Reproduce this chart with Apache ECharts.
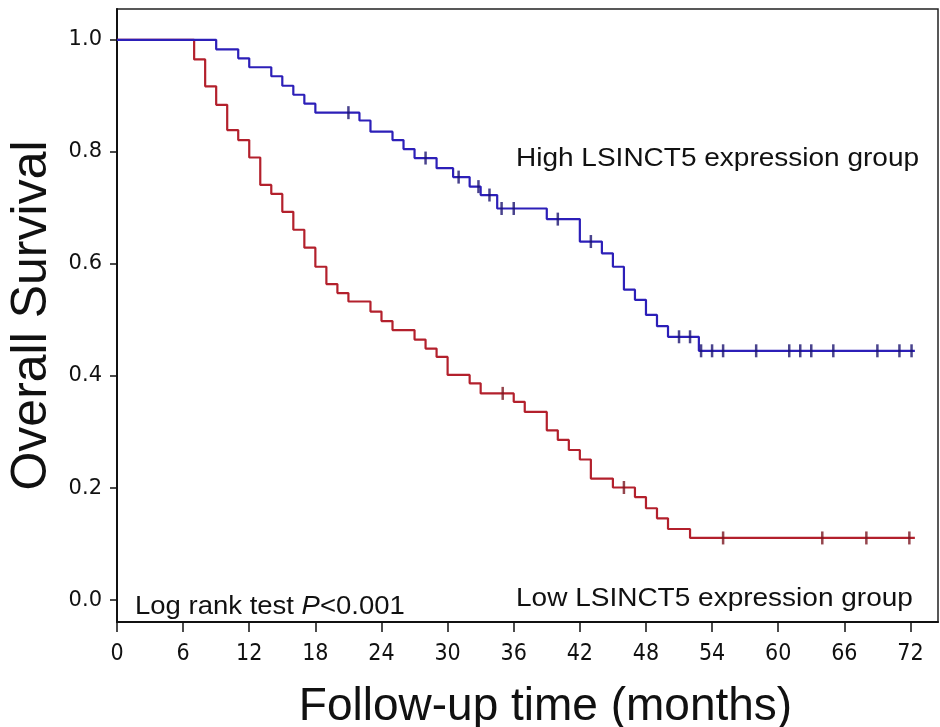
<!DOCTYPE html>
<html><head><meta charset="utf-8">
<script src="https://cdn.jsdelivr.net/npm/echarts@6/dist/echarts.min.js"></script>
<style>html,body{margin:0;padding:0;background:#fff}#c{width:940px;height:727px}</style>
</head><body><div id="c"></div>
<script>
// ---- data ----
const xTicks = [0, 6, 12, 18, 24, 30, 36, 42, 48, 54, 60, 66, 72];
const yTicks = [0, 0.2, 0.4, 0.6, 0.8, 1.0];

const highTimes = [0, 9, 11, 12, 14, 15, 16, 17, 18, 22, 23, 25, 26, 27, 29, 30.5, 32, 33, 34.5, 39, 42, 44, 45, 46, 47, 48, 49, 50, 52.8];
const highSurv  = [1.0, 0.983, 0.967, 0.951, 0.935, 0.918, 0.902, 0.886, 0.870, 0.856, 0.836, 0.821, 0.805, 0.789, 0.771, 0.755, 0.738, 0.723, 0.699, 0.680, 0.640, 0.619, 0.595, 0.554, 0.536, 0.509, 0.489, 0.470, 0.445];
const highEnd = 72.4;
const highCensor = [21, 28, 31, 32.8, 33.8, 34.9, 36, 40, 43, 51, 52, 53, 54, 55, 58, 61, 62, 63, 65, 69, 71, 72.1];

const lowTimes = [0, 7, 8, 9, 10, 11, 12, 13, 14, 15, 16, 17, 18, 19, 20, 21, 23, 24, 25, 27, 28, 29, 30, 32, 33, 36, 37, 39, 40, 41, 42, 43, 45, 47, 48, 49, 50, 52];
const lowSurv  = [1.0, 0.965, 0.917, 0.884, 0.839, 0.821, 0.790, 0.741, 0.725, 0.693, 0.661, 0.629, 0.595, 0.564, 0.548, 0.533, 0.515, 0.498, 0.482, 0.465, 0.449, 0.434, 0.402, 0.387, 0.369, 0.354, 0.336, 0.303, 0.286, 0.268, 0.251, 0.217, 0.201, 0.184, 0.164, 0.146, 0.127, 0.111];
const lowEnd = 72.4;
const lowCensor = [35, 46, 55, 64, 68, 71.9];

const highLabel = 'High LSINCT5 expression group';
const lowLabel = 'Low LSINCT5 expression group';

// ---- helpers ----
function survAt(times, surv, t) {
  let s = surv[0];
  for (let i = 0; i < times.length; i++) if (times[i] <= t) s = surv[i];
  return s;
}
function stepData(times, surv, end) {
  const d = times.map((t, i) => [t, surv[i]]);
  d.push([end, surv[surv.length - 1]]);
  return d;
}
function censorData(times, surv, cens) {
  return cens.map(t => [t, survAt(times, surv, t)]);
}

const blue = '#2c1fb8', red = '#b3202c';
const sans = 'Liberation Sans, Arial, Helvetica';
const chart = echarts.init(document.getElementById('c'), null, {renderer: 'canvas'});
chart.setOption({
  animation: false,
  backgroundColor: '#fff',
  grid: {left: 117, top: 9, right: 2, bottom: 105, outerBoundsMode: 'none', containLabel: false, show: true, borderColor: '#222', borderWidth: 1.5, backgroundColor: 'transparent'},
  xAxis: {
    type: 'value', min: 0, max: 74.5,
    name: 'Follow-up time (months)', nameLocation: 'middle', nameGap: 62,
    nameTextStyle: {fontSize: 46, color: '#111', fontFamily: sans, padding: [0, 0, 0, 36]},
    axisLine: {onZero: false, lineStyle: {color: '#111', width: 2}},
    axisTick: {customValues: xTicks, length: 10, lineStyle: {color: '#111', width: 1.5}},
    axisLabel: {customValues: xTicks, fontSize: 23, color: '#111', margin: 21, fontFamily: "'Liberation Sans Narrow', 'DejaVu Sans Condensed', Arial"},
    splitLine: {show: false}
  },
  yAxis: {
    type: 'value', min: -0.039, max: 1.055,
    name: 'Overall Survival', nameLocation: 'middle', nameGap: 60, nameRotate: 90,
    nameTextStyle: {fontSize: 50, color: '#111', fontFamily: sans},
    axisLine: {onZero: false, lineStyle: {color: '#111', width: 2}},
    axisTick: {customValues: yTicks, length: 7, lineStyle: {color: '#111', width: 1.5}},
    axisLabel: {customValues: yTicks, fontSize: 21, color: '#111', margin: 15, fontFamily: 'DejaVu Sans', formatter: v => v.toFixed(1)},
    splitLine: {show: false}
  },
  series: [
    {type: 'line', step: 'end', data: stepData(lowTimes, lowSurv, lowEnd), symbol: 'none', lineStyle: {color: red, width: 2.2}, z: 2},
    {type: 'line', step: 'end', data: stepData(highTimes, highSurv, highEnd), symbol: 'none', lineStyle: {color: blue, width: 2.2}, z: 3},
    {type: 'scatter', data: censorData(lowTimes, lowSurv, lowCensor), symbol: 'rect', symbolSize: [2.5, 13], itemStyle: {color: '#7a1620'}, z: 4},
    {type: 'scatter', data: censorData(highTimes, highSurv, highCensor), symbol: 'rect', symbolSize: [2.5, 13], itemStyle: {color: '#1c1470'}, z: 5}
  ],
  graphic: [
    {type: 'text', x: 516, y: 147, scaleX: 1.12, style: {text: highLabel, fontSize: 25, fill: '#111', fontFamily: sans}},
    {type: 'text', x: 516, y: 587, scaleX: 1.12, style: {text: lowLabel, fontSize: 25, fill: '#111', fontFamily: sans}},
    {type: 'text', x: 135, y: 595, scaleX: 1.1, style: {
      text: '{a|Log rank test }{b|P}{a|<0.001}', fill: '#111',
      rich: {a: {fontSize: 25, fontFamily: sans, fill: '#111'}, b: {fontSize: 25, fontStyle: 'italic', fontFamily: sans, fill: '#111'}}
    }}
  ]
});
</script></body></html>
